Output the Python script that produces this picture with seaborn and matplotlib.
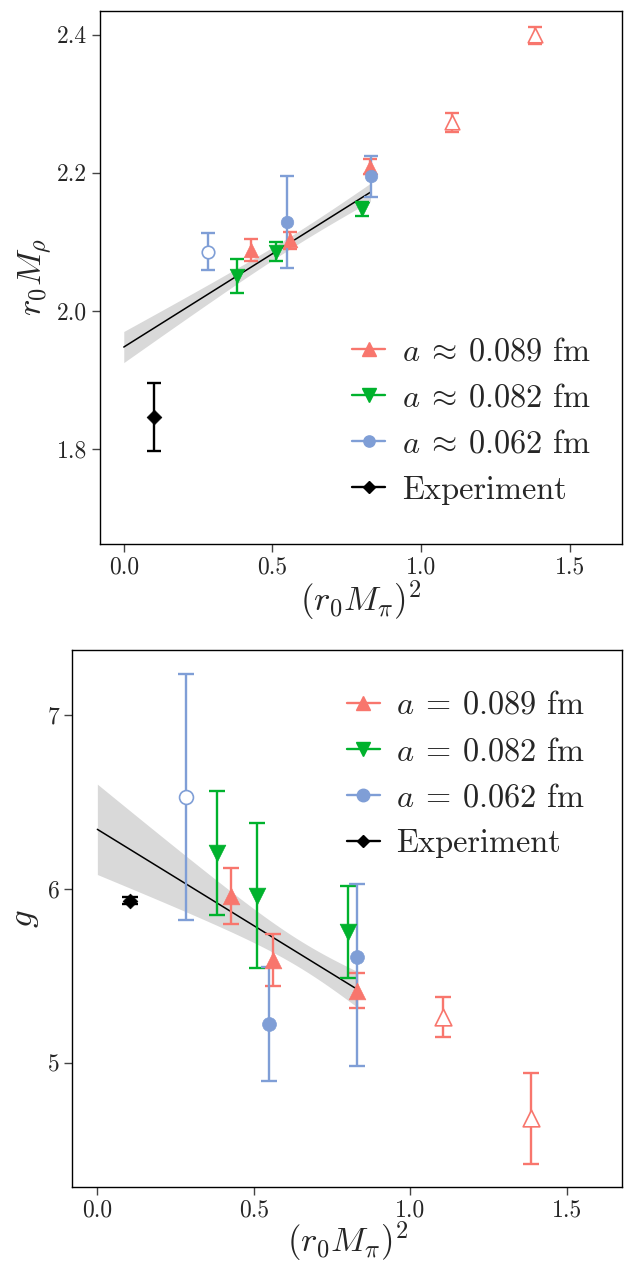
import numpy as np
import matplotlib
matplotlib.use("Agg")
import matplotlib.pyplot as plt
import seaborn as sns
import pandas as pd
from matplotlib.lines import Line2D

# ---------------- data ----------------
red_x = [0.427, 0.560, 0.829, 1.105, 1.385]
red_open = [False, False, False, True, True]
red_mrho = [2.088, 2.1025, 2.209, 2.273, 2.399]
red_mrho_err = [0.016, 0.012, 0.011, 0.014, 0.012]
red_g = [5.96, 5.59, 5.416, 5.265, 4.68]
red_g_err = [0.16, 0.15, 0.10, 0.115, 0.26]

green_x = [0.381, 0.511, 0.802]
green_open = [False, False, False]
green_mrho = [2.051, 2.086, 2.148]
green_mrho_err = [0.025, 0.014, 0.010]
green_g = [6.207, 5.963, 5.754]
green_g_err = [0.355, 0.415, 0.263]

blue_x = [0.284, 0.548, 0.831]
blue_open = [True, False, False]
blue_mrho = [2.086, 2.129, 2.195]
blue_mrho_err = [0.027, 0.067, 0.030]
blue_g = [6.531, 5.223, 5.607]
blue_g_err_lo = [0.708, 0.327, 0.626]
blue_g_err_hi = [0.708, 0.327, 0.423]

exp_x = [0.103]
exp_mrho = [1.847]
exp_mrho_err = [0.049]
exp_g = [5.933]
exp_g_err = [0.02]

# linear chiral fits (intercept, slope, their errors and correlation)
fit_range = [0.0, 0.83]
fit_mrho = dict(a=1.948, b=0.270, sa=0.0225, sb=0.0362, rho=-0.917)
fit_g = dict(a=6.344, b=-1.109, sa=0.26, sb=0.380, rho=-0.954)

labels_top = [r"$a\:\approx\:0.089$ fm", r"$a\:\approx\:0.082$ fm", r"$a\:\approx\:0.062$ fm", "Experiment"]
labels_bot = [r"$a\:=\:0.089$ fm", r"$a\:=\:0.082$ fm", r"$a\:=\:0.062$ fm", "Experiment"]

# ---------------- style ----------------
sns.set_style("ticks")
plt.rcParams["font.family"] = ["serif"]
plt.rcParams["font.serif"] = ["cmr10", "DejaVu Serif"]
plt.rcParams["mathtext.fontset"] = "cm"
plt.rcParams["axes.formatter.use_mathtext"] = True
plt.rcParams["axes.unicode_minus"] = False

RED = "#F8766D"
GREEN = "#00B22D"
BLUE = "#7F9ED6"

fig = plt.figure(figsize=(6.25, 12.64), dpi=100)
W, H = 625, 1264
ax1 = fig.add_axes([100 / W, 1 - 543.5 / H, 522 / W, (543.5 - 10.8) / H])
ax2 = fig.add_axes([72.3 / W, 1 - 1187.3 / H, (622 - 72.3) / W, (1187.3 - 650) / H])


def draw_fit(ax, p):
    xx = np.linspace(fit_range[0], fit_range[1], 100)
    yy = p["a"] + p["b"] * xx
    var = p["sa"] ** 2 + 2 * p["rho"] * p["sa"] * p["sb"] * xx + (p["sb"] * xx) ** 2
    s = np.sqrt(np.clip(var, 0, None))
    ax.fill_between(xx, yy - s, yy + s, color="#D9D9D9", lw=0, zorder=1)
    sns.lineplot(x=xx, y=yy, color="black", lw=1.1, ax=ax, zorder=2)


def draw_series(ax, x, y, elo, ehi, color, cap):
    ax.errorbar(x, y, yerr=[elo, ehi], fmt="none", ecolor=color, elinewidth=1.7,
                capsize=cap, capthick=1.7, zorder=3)


def draw_points(ax, x, y, color, marker, ms, openflags):
    df = pd.DataFrame({"x": x, "y": y, "open": openflags})
    filled = df[~df["open"]]
    hollow = df[df["open"]]
    sns.scatterplot(data=filled, x="x", y="y", marker=marker, s=ms ** 2, color=color,
                    edgecolor=color, linewidth=0.5, ax=ax, zorder=5, legend=False)
    if len(hollow):
        sns.scatterplot(data=hollow, x="x", y="y", marker=marker, s=ms ** 2, color="white",
                        edgecolor=color, linewidth=1.2, ax=ax, zorder=5, legend=False)


def panel(ax, ys, errs, fitp, ms_tri, ms_circ, cap, xpad):
    draw_fit(ax, fitp)
    (ry, gy, by, ey) = ys
    (re_, ge_, be_lo, be_hi, ee) = errs
    draw_series(ax, red_x, ry, re_, re_, RED, cap)
    draw_series(ax, green_x, gy, ge_, ge_, GREEN, cap)
    draw_series(ax, blue_x, by, be_lo, be_hi, BLUE, cap)
    draw_series(ax, exp_x, ey, ee, ee, "black", cap)
    draw_points(ax, red_x, ry, RED, "^", ms_tri, red_open)
    draw_points(ax, green_x, gy, GREEN, "v", ms_tri, green_open)
    draw_points(ax, blue_x, by, BLUE, "o", ms_circ, blue_open)
    draw_points(ax, exp_x, ey, "black", "D", 7.5, [False])

    ax.set_xlim(-0.08, 1.676)
    ax.set_xticks([0.0, 0.5, 1.0, 1.5])
    ax.set_xticklabels(["0.0", "0.5", "1.0", "1.5"])
    ax.tick_params(axis="both", which="major", labelsize=17, length=6, width=1.0,
                   color="#444444", pad=3, direction="out", top=False, right=False)
    for sp in ax.spines.values():
        sp.set_visible(True)
        sp.set_linewidth(1.0)
        sp.set_color("black")
    ax.set_xlabel(r"$(r_0 M_\pi)^2$", fontsize=25, labelpad=xpad)


def legend_handles(ms_tri, ms_circ):
    return [
        Line2D([], [], color=RED, marker="^", ms=ms_tri * 0.9, lw=1.7),
        Line2D([], [], color=GREEN, marker="v", ms=ms_tri * 0.9, lw=1.7),
        Line2D([], [], color=BLUE, marker="o", ms=ms_circ * 0.9, lw=1.7),
        Line2D([], [], color="black", marker="D", ms=6.5, lw=1.7),
    ]


LEG = dict(loc="center", frameon=False, fontsize=23.3, handlelength=1.02,
           handletextpad=0.52, labelspacing=0.53, borderaxespad=0)

panel(ax1, (red_mrho, green_mrho, blue_mrho, exp_mrho),
      (red_mrho_err, green_mrho_err, blue_mrho_err, blue_mrho_err, exp_mrho_err),
      fit_mrho, 10.5, 9, 5, 0)
ax1.set_ylim(1.6637, 2.4346)
ax1.set_yticks([1.8, 2.0, 2.2, 2.4])
ax1.set_yticklabels(["1.8", "2.0", "2.2", "2.4"])
ax1.set_ylabel(r"$r_0 M_\rho$", fontsize=25, labelpad=2)
ax1.legend(handles=legend_handles(10.5, 9), labels=labels_top,
           bbox_to_anchor=(0.712, 0.23), **LEG)

panel(ax2, (red_g, green_g, blue_g, exp_g),
      (red_g_err, green_g_err, blue_g_err_lo, blue_g_err_hi, exp_g_err),
      fit_g, 12, 10, 5.5, -2)
ax2.set_ylim(4.284, 7.376)
ax2.set_yticks([5, 6, 7])
ax2.set_yticklabels(["5", "6", "7"])
ax2.set_ylabel(r"$g$", fontsize=25, labelpad=5)
ax2.legend(handles=legend_handles(11, 10), labels=labels_bot,
           bbox_to_anchor=(0.716, 0.768), **LEG)

fig.savefig("out.png", dpi=100)
